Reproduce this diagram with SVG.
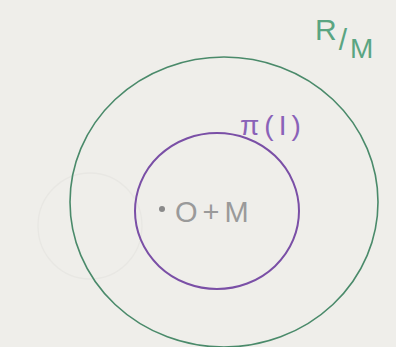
<svg xmlns="http://www.w3.org/2000/svg" width="396" height="347" viewBox="0 0 396 347">
<style>
.lbl{font-family:"Liberation Sans",Arial,sans-serif}
</style>
<rect x="0" y="0" width="396" height="347" fill="#efeeea"/>
<g id="faint">
<ellipse cx="90" cy="226" rx="52" ry="53" fill="none" stroke="#e8e7e3" stroke-width="1.3"/>
</g>
<g id="outer">
<ellipse cx="224" cy="202" rx="154" ry="145" fill="none" stroke="#4a8a6a" stroke-width="1.6"/>
<text class="lbl" x="315" y="40" font-size="30" fill="#5aa582">R<tspan dx="2" dy="10" font-size="30">/</tspan><tspan dx="3" dy="8" font-size="28">M</tspan></text>
</g>
<g id="inner">
<ellipse cx="217" cy="211" rx="82" ry="78" fill="none" stroke="#7a4fa6" stroke-width="2"/>
<text class="lbl" x="240" y="135" font-size="28" letter-spacing="5" fill="#8a62b8">π(I)</text>
</g>
<g id="point">
<circle cx="162" cy="209" r="3" fill="#8a8a8a"/>
<text class="lbl" x="175" y="222" font-size="29" letter-spacing="5" fill="#9a9a9a">O+M</text>
</g>
</svg>
